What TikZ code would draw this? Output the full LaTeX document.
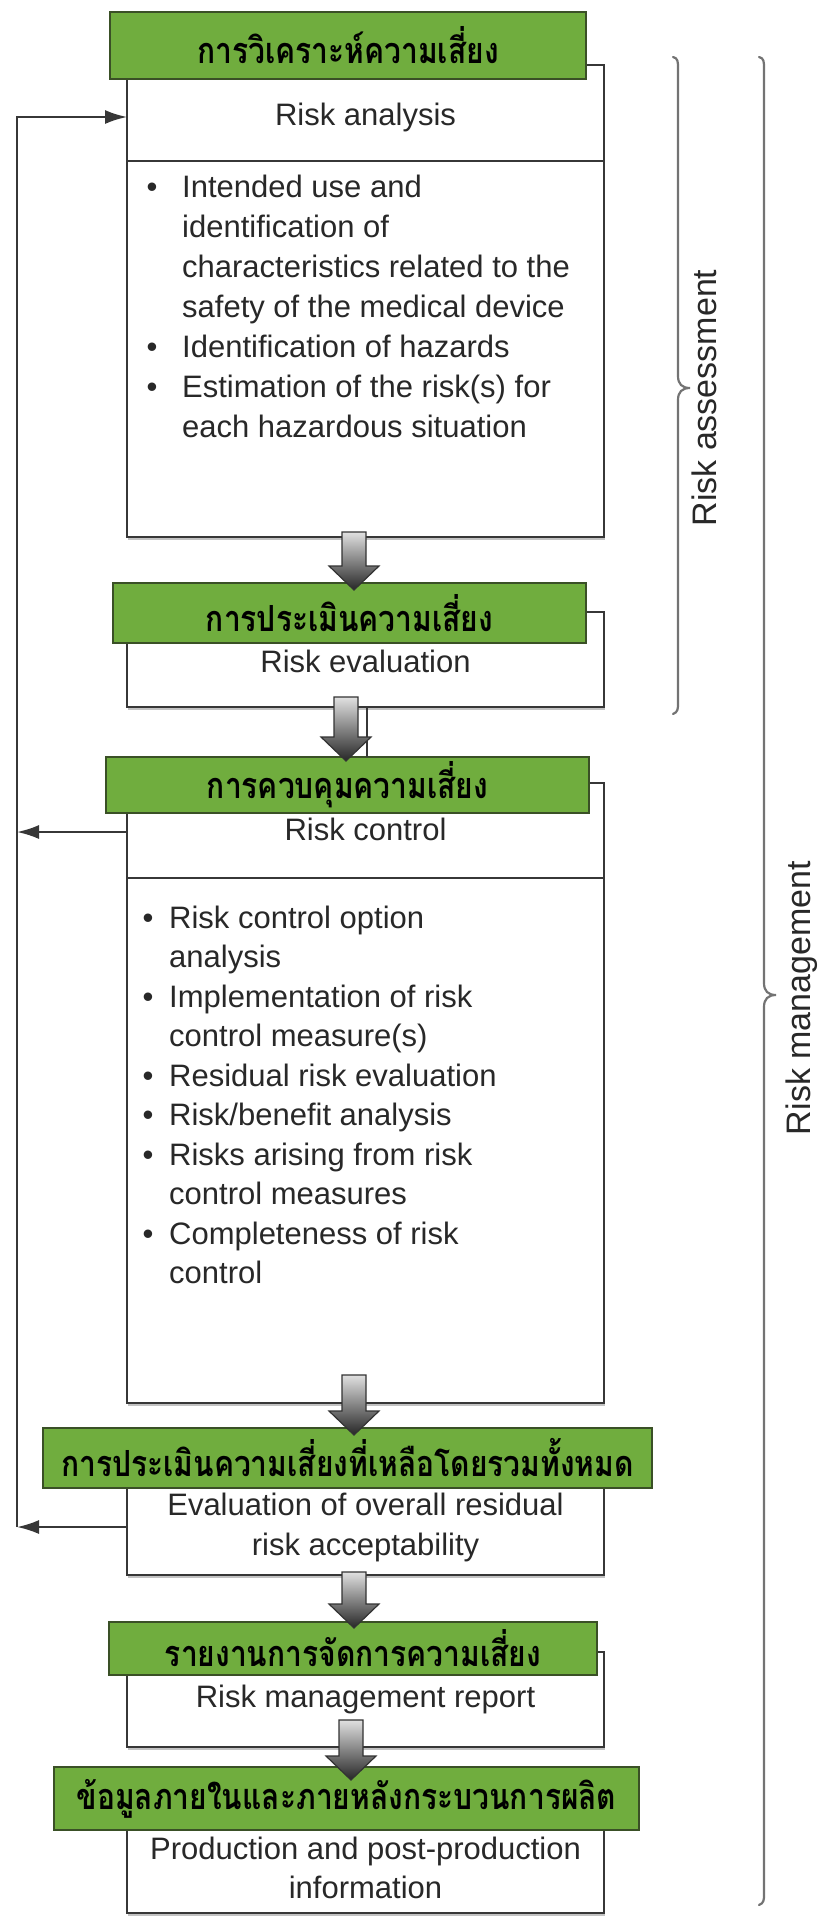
\documentclass[tikz,border=0pt]{standalone}
\usepackage{fontspec}
\setmainfont{Liberation Sans}
\newfontfamily\thaifont[Script=Thai]{Loma}
\usetikzlibrary{arrows.meta,calc,shadows}

\definecolor{boxgreen}{RGB}{112,173,62}
\definecolor{greenedge}{RGB}{58,80,38}
\definecolor{edge}{RGB}{55,55,55}
\definecolor{ink}{RGB}{40,40,40}

% Thai title text, set a little taller than the font's own proportions
\newcommand\thtitle[1]{\scalebox{1}[1.2]{#1}}

% shaded block arrow from node #1 to node #2, centred at x=#3,
% shaft starting #4 inside #1, tip reaching #5 into #2
\newcommand\blockarrow[5]{%
  \shade[garrow] let \p1=(#1.south), \p2=(#2.north) in
    ({#3pt-12pt},{\y1+#4pt}) -- ({#3pt+12pt},{\y1+#4pt})
    -- ({#3pt+12pt},{\y2-#5pt+24pt}) -- ({#3pt+25pt},{\y2-#5pt+24pt})
    -- ({#3pt},{\y2-#5pt}) -- ({#3pt-25pt},{\y2-#5pt+24pt})
    -- ({#3pt-12pt},{\y2-#5pt+24pt}) -- cycle;}

\begin{document}
\begin{tikzpicture}[x=1pt,y=-1pt,
  wbox/.style={draw=edge, line width=2pt, fill=white, inner sep=0pt, outer sep=0pt,
    drop shadow={shadow xshift=1pt, shadow yshift=-3pt, fill=black!40, opacity=0.6}},
  gbox/.style={draw=greenedge, line width=1.8pt, fill=boxgreen, inner sep=0pt, outer sep=0pt,
    font=\thaifont\bfseries\fontsize{30}{36}\selectfont, text=black},
  lbl/.style={font=\fontsize{31}{40}\selectfont, text=ink, inner sep=0pt, anchor=base},
  item/.style={font=\fontsize{31}{40}\selectfont, text=ink, inner sep=0pt, anchor=base west},
  dot/.style={font=\fontsize{31}{40}\selectfont, text=ink, inner sep=0pt, anchor=base},
  rule/.style={draw=edge, line width=2.4pt},
  fb/.style={draw=edge, line width=2pt, -{Latex[length=22pt,width=14pt]}},
  brace/.style={draw=black!55, line width=2.2pt, line cap=round},
  side/.style={font=\fontsize{34}{40}\selectfont, text=ink, rotate=90, inner sep=0pt, anchor=base},
  garrow/.style={draw=black!80, line width=1.2pt, top color=black!12, bottom color=black!85}
]
\useasboundingbox (0,0) rectangle (819,1920);

% white step boxes
\node[wbox, minimum width=477pt, minimum height=472pt] (b1) at (365.5,301) {};
\node[wbox, minimum width=477pt, minimum height=95pt]  (b2) at (365.5,659.5) {};
\node[wbox, minimum width=477pt, minimum height=620pt] (b3) at (365.5,1093) {};
\node[wbox, minimum width=477pt, minimum height=117pt] (b4) at (365.5,1516.5) {};
\node[wbox, minimum width=477pt, minimum height=95pt]  (b5) at (365.5,1699.5) {};
\node[wbox, minimum width=477pt, minimum height=113pt] (b6) at (365.5,1856.5) {};

% dividers under the step titles
\coordinate (d1) at (0,161);
\coordinate (d3) at (0,878);
\draw[rule] (b1.west |- d1) -- (b1.east |- d1);
\draw[rule] (b3.west |- d3) -- (b3.east |- d3);

% green Thai title bars
\node[gbox, minimum width=476pt, minimum height=67pt] (g1) at (348,45.5) {\thtitle{การวิเคราะห์ความเสี่ยง}};
\node[gbox, minimum width=473pt, minimum height=60pt] (g2) at (349.5,613) {\thtitle{การประเมินความเสี่ยง}};
\node[gbox, minimum width=483pt, minimum height=56pt] (g3) at (347.5,785) {\thtitle{การควบคุมความเสี่ยง}};
\node[gbox, minimum width=609pt, minimum height=60pt] (g4) at (347.5,1458) {\thtitle{การประเมินความเสี่ยงที่เหลือโดยรวมทั้งหมด}};
\node[gbox, minimum width=488pt, minimum height=53pt] (g5) at (353,1648.5) {\thtitle{รายงานการจัดการความเสี่ยง}};
\node[gbox, minimum width=585pt, minimum height=63pt] (g6) at (346.5,1798.5) {\thtitle{ข้อมูลภายในและภายหลังกระบวนการผลิต}};

% flow arrows between the steps
\blockarrow{b1}{g2}{354}{5}{7}
\coordinate (x367) at (367,0);
\draw[draw=edge, line width=1.5pt] (b2.south -| x367) -- (g3.north -| x367);
\blockarrow{b2}{g3}{346}{10}{4}
\blockarrow{b3}{g4}{354}{28}{7}
\blockarrow{b4}{g5}{354}{3}{6}
\blockarrow{b5}{g6}{351}{27}{13}

% English step titles
\node[lbl] (t1) at (365.5,125) {Risk analysis};
\node[lbl] (t2) at (365.5,672) {Risk evaluation};
\node[lbl] (t3) at (365.5,840) {Risk control};
\node[lbl] (t4a) at (365.5,1515) {Evaluation of overall residual};
\node[lbl] (t4b) at (365.5,1555) {risk acceptability};
\node[lbl] (t5) at (365.5,1707) {Risk management report};
\node[lbl] (t6a) at (365.5,1859) {Production and post-production};
\node[lbl] (t6b) at (365.5,1898) {information};

% risk analysis items
\foreach \t [count=\i] in {{Intended use and},{identification of},
    {characteristics related to the},{safety of the medical device},
    {Identification of hazards},{Estimation of the risk(s) for},
    {each hazardous situation}}
  \node[item] (ra\i) at (182,{197+40*(\i-1)}) {\t};
\foreach \i in {1,5,6}
  \node[dot] (rad\i) at (152,{197+40*(\i-1)}) {•};

% risk control items
\foreach \t [count=\i] in {{Risk control option},{analysis},
    {Implementation of risk},{control measure(s)},
    {Residual risk evaluation},{Risk/benefit analysis},
    {Risks arising from risk},{control measures},
    {Completeness of risk},{control}}
  \node[item] (rc\i) at (169,{928+39.5*(\i-1)}) {\t};
\foreach \i in {1,3,5,6,7,9}
  \node[dot] (rcd\i) at (148,{928+39.5*(\i-1)}) {•};

% feedback loop on the left
\coordinate (fbtop) at (17,117);
\coordinate (fbmid) at (17,832);
\coordinate (fbbot) at (17,1527);
\draw[fb] (fbbot) -- (fbtop) -- (fbtop -| b1.west);
\draw[fb] (fbmid -| b3.west) -- (fbmid);
\draw[fb] (fbbot -| b4.west) -- (fbbot);

% braces on the right
\draw[brace] (673,57) .. controls (678,58) and (678,62) .. (678,68)
  -- (678,376) .. controls (678,384) and (682,388) .. (690,388)
  .. controls (682,388) and (678,392) .. (678,400)
  -- (678,703) .. controls (678,709) and (678,712) .. (673,714);
\draw[brace] (759,57) .. controls (764,58) and (764,62) .. (764,68)
  -- (764,983) .. controls (764,991) and (768,995) .. (776,995)
  .. controls (768,995) and (764,999) .. (764,1007)
  -- (764,1894) .. controls (764,1900) and (764,1903) .. (759,1905);
\node[side] (sa) at (716,398) {Risk assessment};
\node[side] (sm) at (810,998) {Risk management};
\end{tikzpicture}
\end{document}
